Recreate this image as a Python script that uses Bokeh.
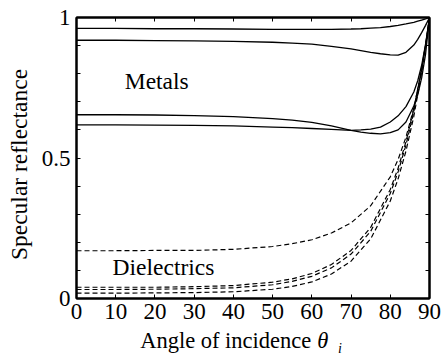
import numpy as np
from bokeh.plotting import figure
from bokeh.layouts import row, column
from bokeh.models import LinearAxis, FixedTicker, Label, Range1d
from bokeh.embed import file_html
from bokeh.resources import INLINE

# ---- data ----
metal_angles = [0, 10, 20, 30, 40, 50, 55, 60, 65, 70, 72.5, 75, 77.5, 80, 82, 84, 86, 87, 88, 89, 90]
metal_1 = [0.961, 0.961, 0.960, 0.960, 0.959, 0.958, 0.958, 0.958, 0.958, 0.959, 0.960, 0.962, 0.964, 0.968, 0.972, 0.977, 0.983, 0.987, 0.991, 0.995, 1.0]
metal_2 = [0.919, 0.919, 0.918, 0.917, 0.915, 0.912, 0.909, 0.905, 0.897, 0.888, 0.882, 0.876, 0.871, 0.867, 0.866, 0.876, 0.902, 0.922, 0.946, 0.972, 1.0]
metal_3 = [0.654, 0.654, 0.653, 0.651, 0.647, 0.640, 0.635, 0.627, 0.614, 0.598, 0.592, 0.588, 0.586, 0.590, 0.600, 0.628, 0.685, 0.725, 0.785, 0.870, 1.0]
metal_4 = [0.618, 0.618, 0.617, 0.616, 0.614, 0.610, 0.608, 0.605, 0.602, 0.598, 0.600, 0.603, 0.610, 0.628, 0.650, 0.683, 0.735, 0.775, 0.830, 0.905, 1.0]

diel_angles = [0, 10, 20, 30, 40, 50, 55, 60, 65, 70, 75, 80, 82, 84, 86, 88, 89, 90]
diel_1 = [0.170, 0.170, 0.171, 0.171, 0.175, 0.185, 0.195, 0.209, 0.233, 0.269, 0.330, 0.433, 0.495, 0.574, 0.677, 0.814, 0.900, 1.0]
diel_2 = [0.040, 0.040, 0.040, 0.042, 0.046, 0.058, 0.070, 0.089, 0.121, 0.171, 0.253, 0.388, 0.464, 0.558, 0.674, 0.819, 0.904, 1.0]
diel_3 = [0.032, 0.032, 0.033, 0.035, 0.038, 0.049, 0.061, 0.079, 0.109, 0.158, 0.239, 0.374, 0.451, 0.546, 0.665, 0.814, 0.901, 1.0]
diel_4 = [0.019, 0.019, 0.020, 0.021, 0.024, 0.033, 0.043, 0.059, 0.087, 0.133, 0.212, 0.347, 0.426, 0.525, 0.648, 0.804, 0.896, 1.0]

x_ticks = [0, 10, 20, 30, 40, 50, 60, 70, 80, 90]
y_ticks = [0, 0.1, 0.2, 0.3, 0.4, 0.5, 0.6, 0.7, 0.8, 0.9, 1.0]
y_tick_labels = {0: "0", 0.5: "0.5", 1: "1"}

FONT = "Liberation Serif"
FS_TICK = "23px"
FS_TEXT = "23.5px"
FS_XTITLE = "22.5px"

YLAB_W = 38
MAIN_W = 403
MAIN_H = 326
XLAB_H = 32
BL = 74 - YLAB_W              # main figure left border
BR = MAIN_W - BL - 355        # main figure right border

p = figure(width=MAIN_W, height=MAIN_H, output_backend="svg", toolbar_location=None,
           x_range=Range1d(0, 90), y_range=Range1d(0, 1),
           min_border_left=BL, min_border_right=BR,
           min_border_top=17, min_border_bottom=MAIN_H - 17 - 281)
p.background_fill_color = "white"
p.border_fill_color = "white"
p.grid.visible = False
p.outline_line_color = "black"
p.outline_line_width = 2

for ys in (metal_1, metal_2, metal_3, metal_4):
    p.line(metal_angles, ys, line_color="black", line_width=1.3)
for ys in (diel_1, diel_2, diel_3, diel_4):
    p.line(diel_angles, ys, line_color="black", line_width=1.2, line_dash="5 3")

def style_axis(ax, show_labels):
    ax.axis_line_color = "black"
    ax.axis_line_width = 2
    ax.major_tick_in = 4
    ax.major_tick_out = 0
    ax.major_tick_line_color = "black"
    ax.major_tick_line_width = 1
    ax.minor_tick_line_color = None
    ax.major_label_text_font = FONT
    ax.major_label_text_font_size = FS_TICK if show_labels else "0px"
    ax.major_label_text_color = "black" if show_labels else None
    ax.axis_label = None

xb = p.xaxis[0]
xb.ticker = FixedTicker(ticks=x_ticks)
style_axis(xb, True)
xb.major_label_standoff = 5

yl = p.yaxis[0]
yl.ticker = FixedTicker(ticks=y_ticks)
yl.major_label_overrides = {t: y_tick_labels.get(t, "") for t in y_ticks}
style_axis(yl, True)
yl.major_label_standoff = 6

xt = LinearAxis(ticker=FixedTicker(ticks=x_ticks))
style_axis(xt, False)
p.add_layout(xt, "above")
yr = LinearAxis(ticker=FixedTicker(ticks=y_ticks))
style_axis(yr, False)
p.add_layout(yr, "right")

def lab(fig, x, y, text, size=FS_TEXT, style="normal", align="left", baseline="alphabetic", angle=0):
    fig.add_layout(Label(x=x, y=y, text=text, text_font=FONT, text_font_size=size,
                         text_font_style=style, text_align=align, text_baseline=baseline,
                         text_color="black", angle=angle))

lab(p, 12.3, 0.775, "Metals")
lab(p, 9.2, 0.113, "Dielectrics")

def blank_fig(w, h, xr, yr_, bl=0, br=0):
    f = figure(width=w, height=h, output_backend="svg", toolbar_location=None,
               x_range=xr, y_range=yr_,
               min_border_left=bl, min_border_right=br, min_border_top=0, min_border_bottom=0)
    f.axis.visible = False
    f.grid.visible = False
    f.outline_line_color = None
    f.background_fill_color = "white"
    f.border_fill_color = "white"
    return f

# x-axis title panel: data coordinates equal page pixels (frame aligned with main frame)
fx = blank_fig(MAIN_W, XLAB_H, Range1d(74, 429), Range1d(MAIN_H + XLAB_H, MAIN_H), bl=BL, br=BR)
lab(fx, 138, 340, "Angle of incidence", size=FS_XTITLE)
lab(fx, 316, 340, "θ", size=FS_XTITLE, style="italic")
lab(fx, 337, 347.5, "i", size="14px", style="italic")

# y-axis title panel: data coordinates equal page pixels
TOTAL_H = MAIN_H + XLAB_H
fy = blank_fig(YLAB_W, TOTAL_H, Range1d(0, YLAB_W), Range1d(TOTAL_H, 0))
lab(fy, 18, 164, "Specular reflectance", align="center", angle=np.pi / 2)

layout = row(fy, column(p, fx))
open("out.html", "w").write(file_html(layout, INLINE))
